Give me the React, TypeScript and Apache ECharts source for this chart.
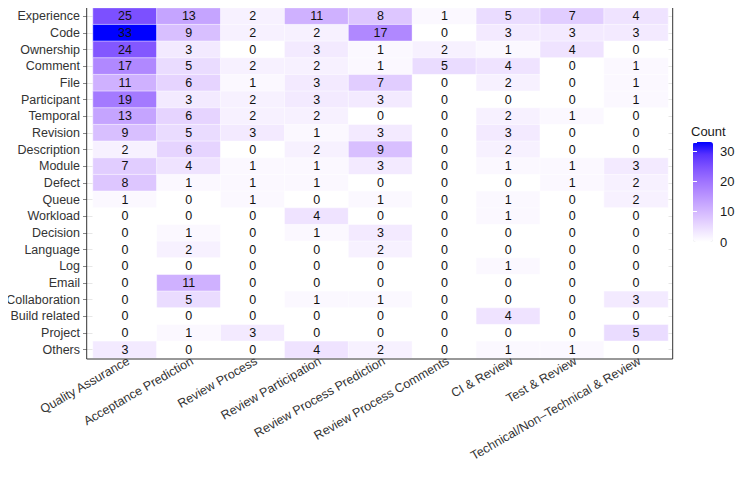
import React, { useEffect, useRef } from "react";
import * as echarts from "echarts";

const columns = [
  "Quality Assurance",
  "Acceptance Prediction",
  "Review Process",
  "Review Participation",
  "Review Process Prediction",
  "Review Process Comments",
  "CI & Review",
  "Test & Review",
  "Technical/Non\u2013Technical & Review",
];

const rows = [
  "Experience", "Code", "Ownership", "Comment", "File", "Participant", "Temporal",
  "Revision", "Description", "Module", "Defect", "Queue", "Workload", "Decision",
  "Language", "Log", "Email", "Collaboration", "Build related", "Project", "Others",
];

const counts: number[][] = [
  [25, 13, 2, 11, 8, 1, 5, 7, 4],
  [33, 9, 2, 2, 17, 0, 3, 3, 3],
  [24, 3, 0, 3, 1, 2, 1, 4, 0],
  [17, 5, 2, 2, 1, 5, 4, 0, 1],
  [11, 6, 1, 3, 7, 0, 2, 0, 1],
  [19, 3, 2, 3, 3, 0, 0, 0, 1],
  [13, 6, 2, 2, 0, 0, 2, 1, 0],
  [9, 5, 3, 1, 3, 0, 3, 0, 0],
  [2, 6, 0, 2, 9, 0, 2, 0, 0],
  [7, 4, 1, 1, 3, 0, 1, 1, 3],
  [8, 1, 1, 1, 0, 0, 0, 1, 2],
  [1, 0, 1, 0, 1, 0, 1, 0, 2],
  [0, 0, 0, 4, 0, 0, 1, 0, 0],
  [0, 1, 0, 1, 3, 0, 0, 0, 0],
  [0, 2, 0, 0, 2, 0, 0, 0, 0],
  [0, 0, 0, 0, 0, 0, 1, 0, 0],
  [0, 11, 0, 0, 0, 0, 0, 0, 0],
  [0, 5, 0, 1, 1, 0, 0, 0, 3],
  [0, 0, 0, 0, 0, 0, 4, 0, 0],
  [0, 1, 3, 0, 0, 0, 0, 0, 5],
  [3, 0, 0, 4, 2, 0, 1, 1, 0],
];

const scaleMin = 0;
const scaleMax = 33;
const legendTicks = 10;

const gradient = [
  "#FFFFFF", "#EEE2FF", "#DCC4FF", "#C8A8FF", "#B38BFF",
  "#9B6FFF", "#7E52FF", "#5932FF", "#0000FF",
];

const FONT = "'Liberation Sans', Arial, Helvetica, sans-serif";

export default function App() {
  const ref = useRef<HTMLDivElement>(null);

  useEffect(() => {
    if (!ref.current) return;
    const chart = echarts.init(ref.current, null, { renderer: "svg" });

    const data: [number, number, number][] = [];
    rows.forEach((_, r) => {
      columns.forEach((_, c) => {
        data.push([c, r, counts[r][c]]);
      });
    });

    chart.setOption({
      animation: false,
      backgroundColor: "#ffffff",
      textStyle: { fontFamily: FONT },
      title: {
        text: "Count",
        left: 691,
        top: 125,
        padding: 0,
        textStyle: { fontSize: 13, fontWeight: "normal", color: "#1a1a1a", fontFamily: FONT },
      },
      grid: [
        { left: 93, right: 79, top: 8, bottom: 140 },
        { left: 693, top: 142, width: 20, height: 100 },
      ],
      xAxis: [
        {
          type: "category",
          gridIndex: 0,
          data: columns,
          position: "bottom",
          axisLine: { show: false },
          axisTick: { show: false },
          splitLine: { show: false },
          axisLabel: {
            rotate: 30,
            interval: 0,
            margin: 4,
            padding: [0, -4, 0, 0],
            fontSize: 12.5,
            color: "#333",
            fontFamily: FONT,
          },
        },
        { type: "value", gridIndex: 1, show: false, min: 0, max: 1 },
      ],
      yAxis: [
        {
          type: "category",
          gridIndex: 0,
          data: rows,
          inverse: true,
          position: "left",
          offset: 6,
          axisLine: { show: false },
          axisTick: { show: true, length: 4, interval: 0, alignWithLabel: true, lineStyle: { color: "#888" } },
          splitLine: { show: false },
          axisLabel: { interval: 0, margin: 7, fontSize: 12.5, color: "#333", fontFamily: FONT },
        },
        {
          type: "category",
          gridIndex: 0,
          data: rows,
          inverse: true,
          position: "left",
          offset: 0,
          axisLine: { show: false },
          axisTick: { show: true, length: 6, interval: 0, alignWithLabel: true, lineStyle: { color: "#e6e6e6" } },
          axisLabel: { show: false },
          splitLine: { show: false },
        },
        {
          type: "category",
          gridIndex: 0,
          data: rows,
          inverse: true,
          position: "right",
          offset: 0,
          axisLine: { show: false },
          axisTick: { show: true, length: 5, interval: 0, alignWithLabel: true, lineStyle: { color: "#e6e6e6" } },
          axisLabel: { show: false },
          splitLine: { show: false },
        },
        {
          type: "value",
          gridIndex: 1,
          min: scaleMin,
          max: scaleMax,
          interval: legendTicks,
          position: "right",
          z: 10,
          axisLine: { show: false },
          splitLine: { show: false },
          axisTick: { show: true, inside: true, length: 4, lineStyle: { color: "#ffffff", width: 1 } },
          axisLabel: { margin: 7, fontSize: 13, color: "#1a1a1a", showMaxLabel: false, fontFamily: FONT },
        },
        {
          type: "value",
          gridIndex: 1,
          min: scaleMin,
          max: scaleMax,
          interval: legendTicks,
          position: "left",
          z: 10,
          axisLine: { show: false },
          splitLine: { show: false },
          axisTick: { show: true, inside: true, length: 4, lineStyle: { color: "#ffffff", width: 1 } },
          axisLabel: { show: false, showMaxLabel: false },
        },
      ],
      visualMap: {
        type: "continuous",
        min: scaleMin,
        max: scaleMax,
        seriesIndex: 0,
        dimension: 2,
        calculable: false,
        left: 693,
        top: 142,
        itemWidth: 20,
        itemHeight: 100,
        padding: 0,
        z: 1,
        inRange: { color: gradient },
        textStyle: { color: "transparent" },
      },
      graphic: [
        {
          type: "rect",
          z: 100,
          shape: { x: 86.7, y: 5.7, width: 586, height: 353.3 },
          style: { fill: "none", stroke: "#333", lineWidth: 1 },
          silent: true,
        },
      ],
      series: [
        {
          type: "heatmap",
          xAxisIndex: 0,
          yAxisIndex: 0,
          data,
          itemStyle: { borderColor: "#ffffff", borderWidth: 0.5 },
          label: {
            show: true,
            fontSize: 12.5,
            color: "#111",
            fontFamily: FONT,
          },
          emphasis: { disabled: true },
        },
      ],
    });

    return () => chart.dispose();
  }, []);

  return <div ref={ref} style={{ width: 747, height: 498, marginLeft: -8, marginTop: -8 }} />;
}
